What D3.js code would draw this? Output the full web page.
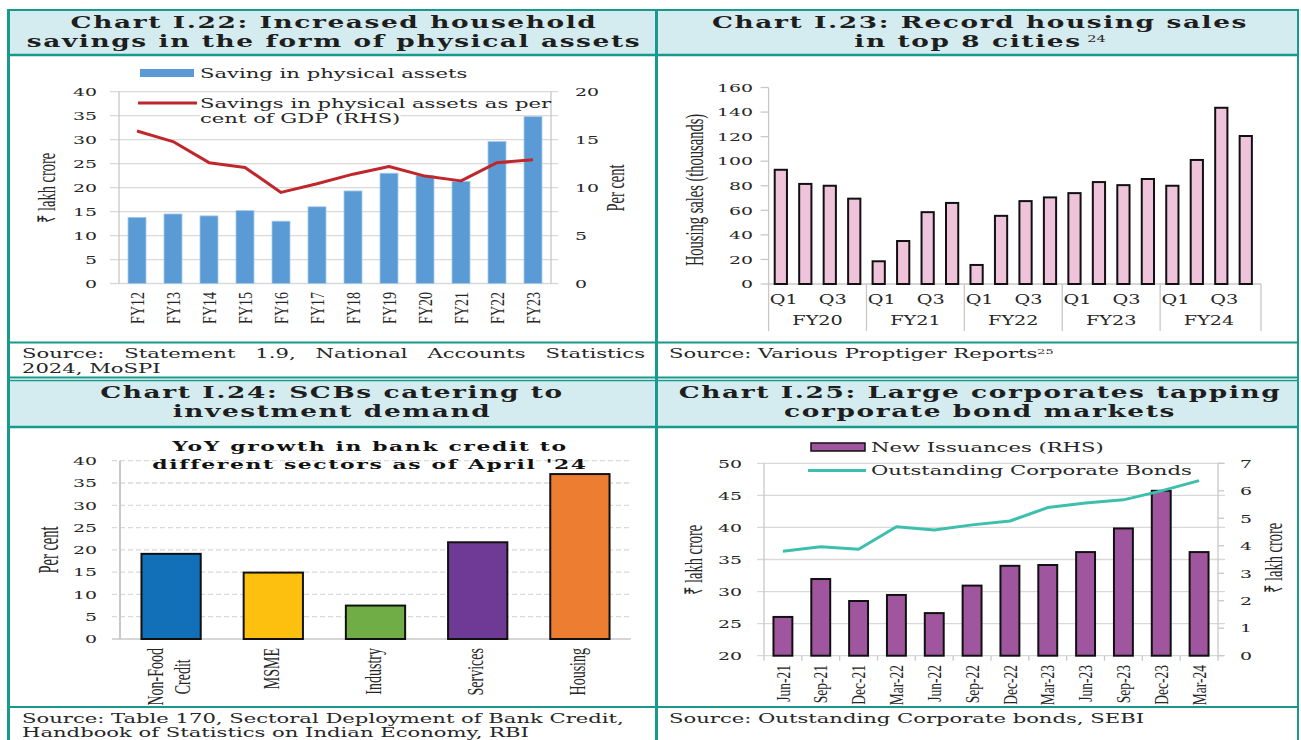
<!DOCTYPE html>
<html>
<head>
<meta charset="utf-8">
<script src="https://cdn.jsdelivr.net/npm/d3@7"></script>
<style>
  body { margin: 0; background: #fff; }
  svg { display: block; }
</style>
</head>
<body>
<div id="chart"></div>
<script>
// Chart I.22
const fyYears = ["FY12", "FY13", "FY14", "FY15", "FY16", "FY17", "FY18", "FY19", "FY20", "FY21", "FY22", "FY23"];
const physSaving = [13.8, 14.5, 14.1, 15.2, 13.0, 16.0, 19.3, 23.0, 22.5, 21.3, 29.6, 34.8];
const physSavingGdp = [15.9, 14.8, 12.6, 12.1, 9.5, 10.4, 11.4, 12.2, 11.2, 10.7, 12.6, 12.9];
const p1LeftTicks = [0, 5, 10, 15, 20, 25, 30, 35, 40];
const p1RightTicks = [0, 5, 10, 15, 20];

// Chart I.23
const fyGroups = ["FY20", "FY21", "FY22", "FY23", "FY24"];
const quarters = ["Q1", "Q2", "Q3", "Q4"];
const housingSales = [93, 81.5, 80, 69.5, 18.5, 35, 58.5, 66, 15.5, 55.5, 67.5, 70.5,
    74, 83, 80.5, 85.5, 80, 101, 143.5, 120.5];
const p2Ticks = [0, 20, 40, 60, 80, 100, 120, 140, 160];

// Chart I.24
const sectors = ["Non-Food Credit", "MSME", "Industry", "Services", "Housing"];
const creditGrowth = [19.1, 14.9, 7.5, 21.7, 37.0];
const sectorColors = ["#1170b8", "#fec00f", "#70ad47", "#6f3996", "#ed7d31"];
const p3Ticks = [0, 5, 10, 15, 20, 25, 30, 35, 40];

// Chart I.25
const bondQuarters = ["Jun-21", "Sep-21", "Dec-21", "Mar-22", "Jun-22", "Sep-22",
    "Dec-22", "Mar-23", "Jun-23", "Sep-23", "Dec-23", "Mar-24"];
const newIssuances = [1.41, 2.79, 1.99, 2.21, 1.55, 2.55, 3.27, 3.3, 3.77, 4.63, 6.0, 3.77];
const outstandingBonds = [36.3, 37.0, 36.6, 40.1, 39.6, 40.4, 41.0, 43.1, 43.8, 44.3, 45.7, 47.3];
const p4LeftTicks = [20, 25, 30, 35, 40, 45, 50];
const p4RightTicks = [0, 1, 2, 3, 4, 5, 6, 7];

const W = 1301, H = 740;
const teal = "#17998b", bandFill = "#d4ecef", grid = "#d9d9d9", axisGray = "#c8c8c8", ink = "#262626";
const SERIF = "'DejaVu Serif', serif";
const TIMES = "'Liberation Serif', 'Times New Roman', serif";
const SX = 1.6;       // the page is stretched sideways
const SX_ROT = 1.4;   // rotated tick labels
const SX_ROT_T = 1.7; // rotated axis titles

const svg = d3.select("#chart").append("svg").attr("width", W).attr("height", H);
svg.append("rect").attr("width", W).attr("height", H).attr("fill", "#fff");

function htext(g, x, y, str, o = {}) {
    return g.append("text")
        .attr("transform", `translate(${x},${y}) scale(${o.sx || SX},1)`)
        .attr("text-anchor", o.anchor || "start")
        .attr("dy", "0.35em")
        .style("font-family", o.times ? TIMES : SERIF)
        .style("font-size", (o.size || 12) + "px")
        .style("font-weight", o.bold ? "bold" : "normal")
        .style("letter-spacing", o.ls ? o.ls + "px" : null)
        .attr("fill", o.fill || ink)
        .text(str);
}

function vtext(g, x, y, str, o = {}) {
    return g.append("text")
        .attr("transform", `translate(${x},${y}) scale(${o.sx || SX_ROT_T},1) rotate(-90)`)
        .attr("text-anchor", o.anchor || "middle")
        .attr("dy", "0.35em")
        .style("font-family", TIMES)
        .style("font-size", (o.size || 14.5) + "px")
        .attr("fill", ink)
        .text(str);
}

function tickAxis(g, axis, x, size) {
    const a = g.append("g")
        .attr("transform", `translate(${x},0)`)
        .call(axis.tickSize(0).tickPadding(0).tickFormat(d3.format("d")));
    a.select(".domain").remove();
    a.selectAll("text")
        .attr("x", 0)
        .attr("transform", `scale(${SX},1)`)
        .style("font-family", SERIF)
        .style("font-size", (size || 11.8) + "px")
        .attr("fill", ink);
    return a;
}

function hLines(g, vals, y, xa, xb, dash) {
    g.append("g").selectAll("line").data(vals).join("line")
        .attr("x1", xa).attr("x2", xb)
        .attr("y1", d => y(d)).attr("y2", d => y(d))
        .attr("stroke", grid).attr("stroke-width", 1.3)
        .attr("stroke-dasharray", dash || null);
}

function vLine(g, x, ya, yb, w) {
    g.append("line").attr("x1", x).attr("x2", x).attr("y1", ya).attr("y2", yb)
        .attr("stroke", axisGray).attr("stroke-width", w || 1.3);
}

// ---------- title bands ----------
const bands = svg.append("g");
[[8, 10, 648, 45], [656, 10, 643, 45], [8, 380, 648, 47], [656, 380, 643, 47]].forEach(r => {
    bands.append("rect").attr("x", r[0]).attr("y", r[1]).attr("width", r[2]).attr("height", r[3])
        .attr("fill", bandFill);
});

const titleOpt = { size: 16.5, bold: true, ls: 1, anchor: "middle", fill: "#1e1e1e" };
htext(svg, 334, 22, "Chart I.22: Increased household", titleOpt);
htext(svg, 334, 41, "savings in the form of physical assets", titleOpt);
htext(svg, 980, 22, "Chart I.23: Record housing sales", titleOpt);
htext(svg, 980, 41, "in top 8 cities", titleOpt)
    .append("tspan").attr("dx", "0.4em").attr("dy", "-0.55em")
    .style("font-size", "9px").style("font-weight", "normal").style("letter-spacing", "0px").text("24");
htext(svg, 332, 392, "Chart I.24: SCBs catering to", titleOpt);
htext(svg, 332, 411, "investment demand", titleOpt);
htext(svg, 980, 392, "Chart I.25: Large corporates tapping", titleOpt);
htext(svg, 980, 411, "corporate bond markets", titleOpt);

// ---------- Chart I.22 ----------
{
    const g = svg.append("g");
    const p = { x0: 119, x1: 551, yb: 283.5, yt: 91.7 };
    const x = d3.scaleBand().domain(fyYears).range([p.x0, p.x1]).paddingInner(0.5).paddingOuter(0.25);
    const y = d3.scaleLinear().domain([0, 40]).range([p.yb, p.yt]);
    const yR = d3.scaleLinear().domain([0, 20]).range([p.yb, p.yt]);

    hLines(g, p1LeftTicks, y, p.x0 - 9, p.x1 + 7);
    vLine(g, p.x0, p.yt, p.yb);
    vLine(g, p.x1, p.yt, p.yb);

    g.append("g").selectAll("rect").data(fyYears).join("rect")
        .attr("x", d => x(d))
        .attr("y", (d, i) => y(physSaving[i]))
        .attr("width", x.bandwidth())
        .attr("height", (d, i) => p.yb - y(physSaving[i]))
        .attr("fill", "#5b9bd5")
        .attr("stroke", "#a9c9ea").attr("stroke-width", 0.8);

    const line = d3.line()
        .x((d, i) => x(fyYears[i]) + x.bandwidth() / 2)
        .y(d => yR(d));
    g.append("path").datum(physSavingGdp)
        .attr("d", line).attr("fill", "none")
        .attr("stroke", "#c0272d").attr("stroke-width", 3).attr("stroke-linejoin", "round");

    tickAxis(g, d3.axisLeft(y).tickValues(p1LeftTicks), 97);
    tickAxis(g, d3.axisRight(yR).tickValues(p1RightTicks), 575);

    fyYears.forEach(d => {
        vtext(g, x(d) + x.bandwidth() / 2, 292, d, { anchor: "end", sx: SX_ROT, size: 14 });
    });

    vtext(g, 46, 188, "₹ lakh crore");
    vtext(g, 615, 188, "Per cent");

    // legend
    g.append("rect").attr("x", 140).attr("y", 69).attr("width", 54).attr("height", 8).attr("fill", "#5b9bd5");
    htext(g, 200, 73, "Saving in physical assets", { size: 13.2 });
    g.append("line").attr("x1", 138).attr("x2", 197).attr("y1", 103).attr("y2", 103)
        .attr("stroke", "#c0272d").attr("stroke-width", 3);
    htext(g, 200, 103, "Savings in physical assets as per", { size: 13.2 });
    const t2 = htext(g, 200, 118, "cent of GDP (RHS)", { size: 13.2 });
    const bb = t2.node().getBBox();
    g.insert("rect", () => t2.node())
        .attr("x", 200 + bb.x * SX).attr("y", 118 + bb.y + 1)
        .attr("width", bb.width * SX).attr("height", bb.height - 2)
        .attr("fill", "#fff");
}

// ---------- Chart I.23 ----------
{
    const g = svg.append("g");
    const p = { x0: 768.6, x1: 1258, yb: 284, yt: 87.5 };
    const keys = fyGroups.flatMap(f => quarters.map(q => f + " " + q));
    const x = d3.scaleBand().domain(keys).range([p.x0, p.x1]).paddingInner(0.5).paddingOuter(0.25);
    const y = d3.scaleLinear().domain([0, 160]).range([p.yb, p.yt]);

    vLine(g, p.x0, p.yt, p.yb);
    g.append("g").selectAll("line").data(p2Ticks).join("line")
        .attr("x1", p.x0 - 8).attr("x2", p.x0)
        .attr("y1", d => y(d)).attr("y2", d => y(d))
        .attr("stroke", axisGray).attr("stroke-width", 1.3);
    g.append("line").attr("x1", p.x0).attr("x2", p.x1 + 3).attr("y1", p.yb).attr("y2", p.yb)
        .attr("stroke", axisGray).attr("stroke-width", 1.5);

    g.append("g").selectAll("rect").data(keys).join("rect")
        .attr("x", d => x(d))
        .attr("y", (d, i) => y(housingSales[i]))
        .attr("width", x.bandwidth())
        .attr("height", (d, i) => p.yb - y(housingSales[i]))
        .attr("fill", "#efc3da")
        .attr("stroke", "#111").attr("stroke-width", 2);

    tickAxis(g, d3.axisLeft(y).tickValues(p2Ticks), 753);

    const step = x.step() * quarters.length;
    fyGroups.forEach((f, gi) => {
        const gx = p.x0 + gi * step;
        vLine(g, gx, p.yb, 331);
        // Excel shows only every other quarter label
        quarters.forEach((q, qi) => {
            if (qi % 2 === 0) htext(g, x(f + " " + q) + x.bandwidth() / 2 + 3, 300, q, { anchor: "middle", size: 12 });
        });
        htext(g, gx + step / 2, 321, f, { anchor: "middle", size: 12 });
    });
    vLine(g, p.x0 + fyGroups.length * step + 3, p.yb, 331);

    vtext(g, 694, 190, "Housing sales (thousands)");
}

// ---------- Chart I.24 ----------
{
    const g = svg.append("g");
    const p = { x0: 120, x1: 631, yb: 639, yt: 460.7 };
    const x = d3.scaleBand().domain(sectors).range([p.x0, p.x1]).paddingInner(0.42).paddingOuter(0.21);
    const y = d3.scaleLinear().domain([0, 40]).range([p.yb, p.yt]);

    hLines(g, p3Ticks.filter(d => d > 0), y, p.x0 - 8, p.x1, "5,3");
    g.append("line").attr("x1", p.x0 - 8).attr("x2", p.x1).attr("y1", p.yb).attr("y2", p.yb)
        .attr("stroke", axisGray).attr("stroke-width", 1.5);
    vLine(g, p.x0, p.yt, p.yb, 2);

    g.append("g").selectAll("rect").data(sectors).join("rect")
        .attr("x", d => x(d))
        .attr("y", (d, i) => y(creditGrowth[i]))
        .attr("width", x.bandwidth())
        .attr("height", (d, i) => p.yb - y(creditGrowth[i]))
        .attr("fill", (d, i) => sectorColors[i])
        .attr("stroke", "#111").attr("stroke-width", 2);

    tickAxis(g, d3.axisLeft(y).tickValues(p3Ticks), 97);

    sectors.forEach(s => {
        const lines = s.split(" ");
        const cx = x(s) + x.bandwidth() / 2 - 3;
        const t0 = vtext(g, cx, 0, lines[0], { sx: SX_ROT_T, size: 14 });
        const len = t0.node().getComputedTextLength();
        t0.remove();
        lines.forEach((ln, i) => {
            vtext(g, cx + (i - (lines.length - 1) / 2) * 27, 648 + len / 2, ln, { sx: SX_ROT_T, size: 14 });
        });
    });

    vtext(g, 48, 550, "Per cent", { sx: 2 });

    const tOpt = { size: 13.7, bold: true, ls: 1, anchor: "middle", fill: "#111" };
    htext(g, 370, 446, "YoY growth in bank credit to", tOpt);
    htext(g, 370, 464, "different sectors as of April '24", tOpt);
}

// ---------- Chart I.25 ----------
{
    const g = svg.append("g");
    const p = { x0: 764, x1: 1218, yb: 655.7, yt: 463.3 };
    const x = d3.scaleBand().domain(bondQuarters).range([p.x0, p.x1]).paddingInner(0.5).paddingOuter(0.25);
    const y = d3.scaleLinear().domain([20, 50]).range([p.yb, p.yt]);
    const yR = d3.scaleLinear().domain([0, 7]).range([p.yb, p.yt]);

    hLines(g, p4LeftTicks, y, p.x0 - 7, p.x1 + 7);
    vLine(g, p.x0, p.yt, p.yb);
    vLine(g, p.x1, p.yt, p.yb);
    g.append("g").selectAll("line").data(d3.range(bondQuarters.length + 1)).join("line")
        .attr("x1", i => p.x0 + i * x.step()).attr("x2", i => p.x0 + i * x.step())
        .attr("y1", p.yb).attr("y2", p.yb + 5)
        .attr("stroke", axisGray).attr("stroke-width", 1.3);
    g.append("g").selectAll("line").data(p4RightTicks).join("line")
        .attr("x1", p.x1).attr("x2", p.x1 + 6)
        .attr("y1", d => yR(d)).attr("y2", d => yR(d))
        .attr("stroke", axisGray).attr("stroke-width", 1.3);

    g.append("g").selectAll("rect").data(bondQuarters).join("rect")
        .attr("x", d => x(d))
        .attr("y", (d, i) => yR(newIssuances[i]))
        .attr("width", x.bandwidth())
        .attr("height", (d, i) => p.yb - yR(newIssuances[i]))
        .attr("fill", "#a0569e")
        .attr("stroke", "#111").attr("stroke-width", 2);

    const line = d3.line()
        .x((d, i) => x(bondQuarters[i]) + x.bandwidth() / 2)
        .y(d => y(d));
    g.append("path").datum(outstandingBonds)
        .attr("d", line).attr("fill", "none")
        .attr("stroke", "#3dbfad").attr("stroke-width", 3).attr("stroke-linejoin", "round");

    tickAxis(g, d3.axisLeft(y).tickValues(p4LeftTicks), 742);
    tickAxis(g, d3.axisRight(yR).tickValues(p4RightTicks), 1240);

    bondQuarters.forEach(d => {
        vtext(g, x(d) + x.bandwidth() / 2, 665, d, { anchor: "end", sx: SX_ROT, size: 13.5 });
    });

    vtext(g, 693, 560, "₹ lakh crore");
    vtext(g, 1273, 558, "₹ lakh crore");

    g.append("rect").attr("x", 811).attr("y", 443).attr("width", 54).attr("height", 8)
        .attr("fill", "#a0569e").attr("stroke", "#111").attr("stroke-width", 1.5);
    htext(g, 871, 447, "New Issuances (RHS)", { size: 13.2 });
    g.append("line").attr("x1", 808).attr("x2", 866).attr("y1", 470.5).attr("y2", 470.5)
        .attr("stroke", "#3dbfad").attr("stroke-width", 3);
    htext(g, 871, 470, "Outstanding Corporate Bonds", { size: 13.2 });
}

// ---------- sources ----------
{
    const g = svg.append("g");
    const srcOpt = { size: 13.2 };
    // first line of the left source is justified
    const words = "Source: Statement 1.9, National Accounts Statistics".split(" ");
    const ts = words.map(w => htext(g, 0, 353, w, srcOpt));
    const widths = ts.map(t => t.node().getComputedTextLength() * SX);
    const gap = (645 - 22 - d3.sum(widths)) / (words.length - 1);
    let cx = 22;
    ts.forEach((t, i) => {
        t.attr("transform", `translate(${cx},353) scale(${SX},1)`);
        cx += widths[i] + gap;
    });
    htext(g, 22, 368, "2024, MoSPI", srcOpt);
    htext(g, 669, 353, "Source: Various Proptiger Reports", srcOpt)
        .append("tspan").attr("dy", "-0.5em").style("font-size", "8px").text("25");
    htext(g, 22, 718, "Source: Table 170, Sectoral Deployment of Bank Credit,", srcOpt);
    htext(g, 22, 732, "Handbook of Statistics on Indian Economy, RBI", srcOpt);
    htext(g, 669, 718, "Source: Outstanding Corporate bonds, SEBI", srcOpt);
}

// ---------- frame ----------
{
    const g = svg.append("g").attr("stroke", teal).attr("fill", "none");
    [[10, 2], [55, 2.5], [342.5, 2], [377.5, 2], [380.5, 1.5], [427, 2.5], [707, 2]].forEach(h => {
        g.append("line").attr("x1", 7).attr("x2", 1299).attr("y1", h[0]).attr("y2", h[0]).attr("stroke-width", h[1]);
    });
    [[8.5, 3], [656.5, 3], [1298, 2]].forEach(v => {
        g.append("line").attr("x1", v[0]).attr("x2", v[0]).attr("y1", 9).attr("y2", H).attr("stroke-width", v[1]);
    });
}
</script>
</body>
</html>
